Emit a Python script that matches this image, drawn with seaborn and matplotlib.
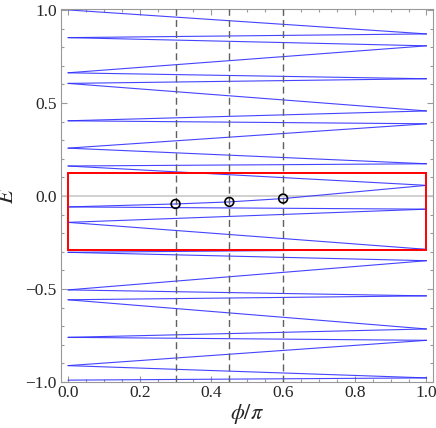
import matplotlib
matplotlib.use('Agg')
import matplotlib.pyplot as plt
from matplotlib.patches import Rectangle
from matplotlib.ticker import MultipleLocator
import seaborn as sns
import pandas as pd

# energies of the levels at phi = 0 (left edge) and phi = pi (right edge);
# the spectrum zigzags L1 -> R1 -> L2 -> R2 ...
left_levels = [1.0, 0.851, 0.662, 0.605, 0.404, 0.257, 0.161, -0.059,
               -0.142, -0.303, -0.505, -0.558, -0.760, -0.912, -0.990]
right_levels = [0.871, 0.807, 0.630, 0.457, 0.388, 0.173, 0.057, -0.071,
                -0.287, -0.348, -0.537, -0.715, -0.776, -0.978]

# marked states on the level closest to zero
marked_phi = [0.3, 0.45, 0.6]
marked_e = [-0.043, -0.032, -0.014]
marked_segment = 13  # segment R7 -> L8 carries the markers

# highlighted energy window
box_phi = (0.0, 1.0)
box_e = (-0.29, 0.125)

sns.set_style("ticks")
plt.rcParams['font.family'] = 'serif'
plt.rcParams['font.serif'] = ['Liberation Serif', 'DejaVu Serif']
plt.rcParams['mathtext.fontset'] = 'stix'

# zigzag points
zig_e = []
for i, e in enumerate(left_levels):
    zig_e.append(e)
    if i < len(right_levels):
        zig_e.append(right_levels[i])
zig_phi = [i % 2 for i in range(len(zig_e))]

rows = []
for k in range(len(zig_e) - 1):
    rows.append((k, zig_phi[k], zig_e[k]))
    rows.append((k, zig_phi[k + 1], zig_e[k + 1]))
for p, e in zip(marked_phi, marked_e):
    rows.append((marked_segment, p, e))
df = pd.DataFrame(rows, columns=['seg', 'phi', 'E'])
marks = pd.DataFrame({'phi': marked_phi, 'E': marked_e})

fig = plt.figure(figsize=(4.36, 4.28), dpi=100)
ax = fig.add_axes([0.140, 0.1075, 0.853, 0.8715])

ax.axhline(0, color='#c8c8c8', lw=1.2, zorder=1)
sns.lineplot(data=df, x='phi', y='E', units='seg', estimator=None,
             color='#3030ff', lw=0.8, alpha=0.9, ax=ax, legend=False, zorder=2)

for p in marked_phi:
    ax.axvline(p, color='#606060', lw=1.0, ls=(0, (5, 3)), zorder=3)

ax.add_patch(Rectangle((box_phi[0], box_e[0]), box_phi[1] - box_phi[0],
                       box_e[1] - box_e[0], fill=False, edgecolor='red',
                       lw=1.4, zorder=4))

sns.scatterplot(data=marks, x='phi', y='E', s=40, facecolor='none',
                edgecolor='black', linewidth=1.2, ax=ax, zorder=5)

ax.set_xlim(-0.0195, 1.018)
ax.set_ylim(-1.0, 1.005)
ax.xaxis.set_major_locator(MultipleLocator(0.2))
ax.xaxis.set_minor_locator(MultipleLocator(0.05))
ax.yaxis.set_major_locator(MultipleLocator(0.5))
ax.yaxis.set_minor_locator(MultipleLocator(0.1))
ax.tick_params(which='both', direction='in', top=True, right=True,
               color='#999999', width=0.8, labelsize=12.5)
ax.tick_params(which='major', length=4, pad=3)
ax.tick_params(which='minor', length=2.2)
ax.tick_params(axis='x', pad=2)
for s in ax.spines.values():
    s.set_color('#999999')
    s.set_linewidth(0.8)

ax.set_xlabel(r'$\phi/\pi$', fontsize=16)
ax.set_ylabel(r'$E$', fontsize=16)
ax.xaxis.set_label_coords(0.5, -0.053)
ax.yaxis.set_label_coords(-0.116, 0.5)

fig.savefig('out.png', dpi=100)
